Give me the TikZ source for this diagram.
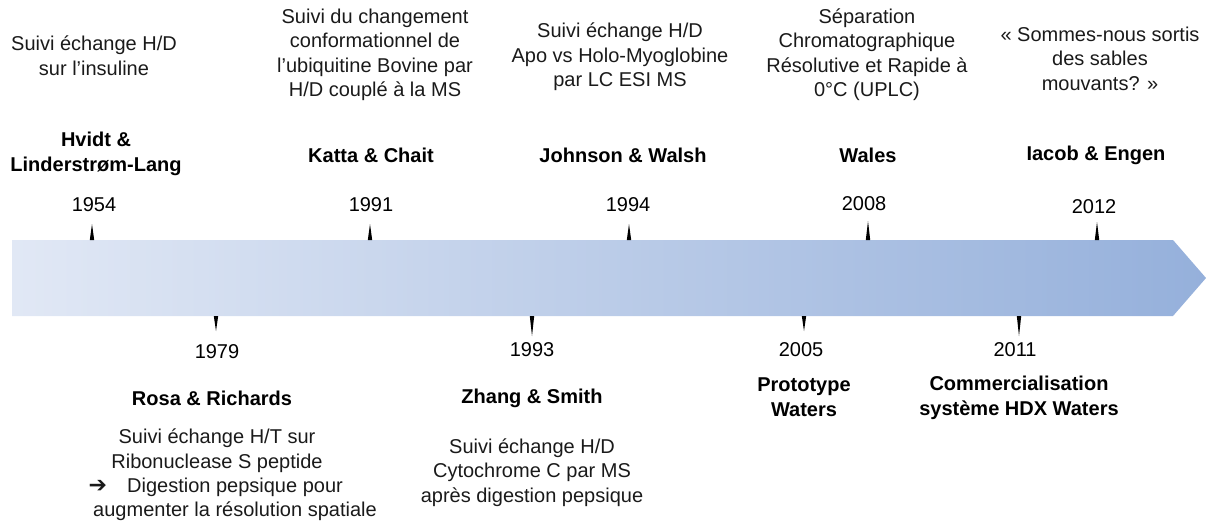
\documentclass[tikz,border=0pt]{standalone}
\usepackage{fontspec}
\setmainfont{Liberation Sans}
\newfontfamily\symfont{DejaVu Sans}
\usetikzlibrary{calc}
\definecolor{arrowleft}{HTML}{E1E8F5}
\definecolor{arrowright}{HTML}{95B0DB}
\definecolor{desctext}{HTML}{1A1A1A}
\tikzset{
  desc/.style={align=center, inner sep=0pt, text=desctext, font=\fontsize{20}{24.5}\selectfont},
  who/.style={align=center, inner sep=0pt, text=black, font=\fontsize{20}{25}\selectfont\bfseries},
  yr/.style={inner sep=0pt, text=black, font=\fontsize{20}{24}\selectfont},
  tickmark/.style={fill=black}
}
\newcommand{\wedgetick}[2]{\fill[tickmark] ($(#1)+(-2.2,0)$) -- ($(#1)+(2.2,0)$) -- (#2) -- cycle;}
\begin{document}
\begin{tikzpicture}[x=1pt,y=-1pt]
\useasboundingbox (0,0) rectangle (1206,522);
% timeline arrow
\shade[left color=arrowleft, right color=arrowright]
  (12,240) -- (1173,240) -- (1206,278) -- (1173,316) -- (12,316) -- cycle;

% ---------- top events ----------
\node[desc] (d1954) at (94,55.5) {Suivi échange H/D\\sur l'insuline};
\node[who]  (n1954) at (96,153.5) {Hvidt \&\\Linderstrøm-Lang};
\node[yr]   (y1954) at (94,205) {1954};

\node[desc] (d1991) at (375,55) {Suivi du changement\\conformationnel de\\l'ubiquitine Bovine par\\H/D couplé à la MS};
\node[who]  (n1991) at (371,155) {Katta \& Chait};
\node[yr]   (y1991) at (371,205) {1991};

\node[desc] (d1994) at (620,57) {Suivi échange H/D\\Apo vs Holo-Myoglobine\\par LC ESI MS};
\node[who]  (n1994) at (623,155) {Johnson \& Walsh};
\node[yr]   (y1994) at (628,205) {1994};

\node[desc] (d2008) at (867,54.5) {Séparation\\Chromatographique\\Résolutive et Rapide à\\0°C (UPLC)};
\node[who]  (n2008) at (868,155) {Wales};
\node[yr]   (y2008) at (864,204) {2008};

\node[desc] (d2012) at (1100,58.5) {« Sommes-nous sortis\\des sables\\mouvants? »};
\node[who]  (n2012) at (1096,155) {Iacob \& Engen};
\node[yr]   (y2012) at (1094,207) {2012};

% ---------- bottom events ----------
\node[yr]   (y1979) at (217,352) {1979};
\node[who]  (n1979) at (212,398) {Rosa \& Richards};
\node[desc] (d1979) at (217,450.5) {Suivi échange H/T sur\\Ribonuclease S peptide};
\node[desc] (e1979) at (235,499.5) {\llap{{\symfont\bfseries\fontsize{22}{24}\selectfont ➔}\hspace{20pt}}Digestion pepsique pour\\augmenter la résolution spatiale};

\node[yr]   (y1993) at (532,350) {1993};
\node[who]  (n1993) at (532,398) {Zhang \& Smith};
\node[desc] (d1993) at (532,472.5) {Suivi échange H/D\\Cytochrome C par MS\\après digestion pepsique};

\node[yr]   (y2005) at (801,350) {2005};
\node[who]  (n2005) at (804,397.5) {Prototype\\Waters};

\node[yr]   (y2011) at (1015,350) {2011};
\node[who]  (n2011) at (1019,397.5) {Commercialisation\\système HDX Waters};

% ---------- tick marks ----------
\coordinate (a1954) at (92,240);   \coordinate (t1954) at (92,224);
\coordinate (a1991) at (370,240);  \coordinate (t1991) at (370,224);
\coordinate (a1994) at (629,240);  \coordinate (t1994) at (629,224);
\coordinate (a2008) at (868,240);  \coordinate (t2008) at (868,221);
\coordinate (a2012) at (1097,240); \coordinate (t2012) at (1097,222);
\coordinate (a1979) at (216,316);  \coordinate (t1979) at (216,331);
\coordinate (a1993) at (532,316);  \coordinate (t1993) at (532,336);
\coordinate (a2005) at (804,316);  \coordinate (t2005) at (804,331);
\coordinate (a2011) at (1019,316); \coordinate (t2011) at (1019,336);
\wedgetick{a1954}{t1954}
\wedgetick{a1991}{t1991}
\wedgetick{a1994}{t1994}
\wedgetick{a2008}{t2008}
\wedgetick{a2012}{t2012}
\wedgetick{a1979}{t1979}
\wedgetick{a1993}{t1993}
\wedgetick{a2005}{t2005}
\wedgetick{a2011}{t2011}
\end{tikzpicture}
\end{document}
